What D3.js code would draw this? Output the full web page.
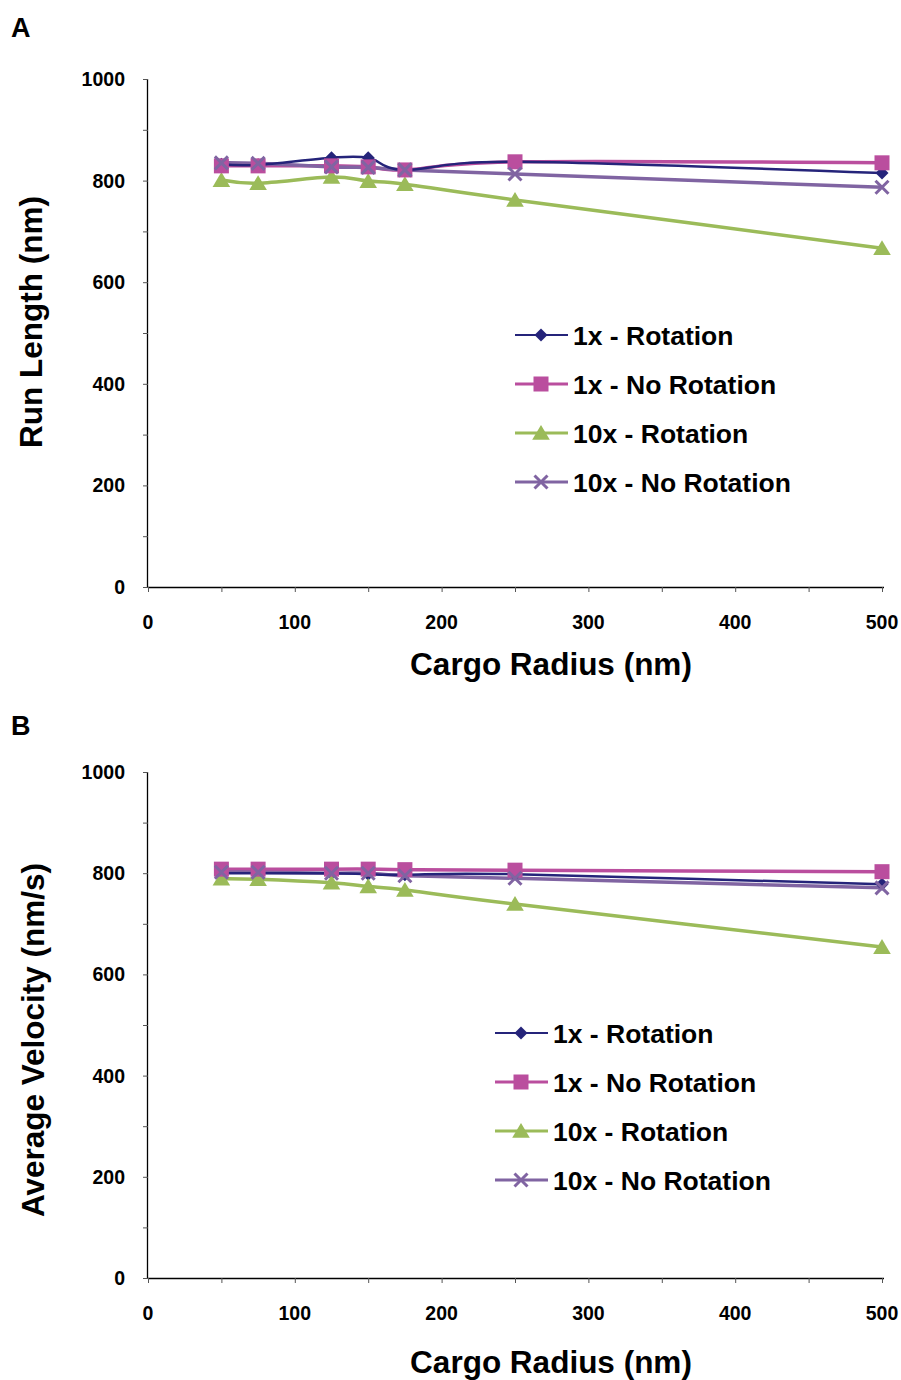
<!DOCTYPE html>
<html>
<head>
<meta charset="utf-8">
<script src="https://cdn.jsdelivr.net/npm/d3@7"></script>
<style>
  body { margin: 0; background: #fff; }
  svg text { font-family: "Liberation Sans", Arial, sans-serif; font-weight: bold; fill: #000; }
</style>
</head>
<body>
<svg id="chart" width="901" height="1380"></svg>
<script>
// cargo radius (nm), shared by both panels
const radius = [50, 75, 125, 150, 175, 250, 500];

const seriesNames = ["1x - Rotation", "1x - No Rotation", "10x - Rotation", "10x - No Rotation"];
const colors = ["#25247A", "#BA4E9E", "#9BBB59", "#8064A2"];
const symbols = ["diamond", "square", "triangle", "cross"];

// panel A: run length (nm)
const runRot1x    = [832, 831, 845, 845, 821, 837, 815];
const runNoRot1x  = [829, 829, 829, 827, 821, 837, 835];
const runRot10x   = [801, 795, 807, 799, 793, 762, 667];
const runNoRot10x = [835, 834, 827, 826, 821, 813, 787];

// panel B: average velocity (nm/s)
const velRot1x    = [800, 800, 800, 798, 797, 798, 778];
const velNoRot1x  = [808, 808, 808, 808, 807, 806, 803];
const velRot10x   = [789, 788, 781, 774, 767, 739, 654];
const velNoRot10x = [802, 802, 800, 800, 795, 790, 771];

const xTicks = [0, 100, 200, 300, 400, 500];
const yTicks = [0, 200, 400, 600, 800, 1000];

const svg = d3.select("#chart");

function marker(g, kind, color, s) {
  if (kind == "diamond") {
    g.append("path").attr("d", `M0,${-s}L${s},0L0,${s}L${-s},0Z`).attr("fill", color);
  } else if (kind == "square") {
    g.append("rect").attr("x", -s).attr("y", -s).attr("width", 2*s).attr("height", 2*s).attr("fill", color);
  } else if (kind == "triangle") {
    g.append("path").attr("d", `M0,${-s}L${s*1.1},${s*0.85}L${-s*1.1},${s*0.85}Z`).attr("fill", color);
  } else {
    g.append("path").attr("d", `M${-s},${-s}L${s},${s}M${s},${-s}L${-s},${s}`)
      .attr("stroke", color).attr("stroke-width", 3).attr("fill", "none");
  }
}

const markerSize = [6.5, 7.5, 8, 6.5];
const lineWidth = [2.5, 3.5, 3.5, 3.5];

function drawPanel(p) {
  const x = d3.scaleLinear().domain([0, 500]).range([148, 882]);
  const y = d3.scaleLinear().domain([0, 1000]).range([p.bottom, p.top]);

  svg.append("text").attr("x", 11).attr("y", p.letterY).attr("font-size", 27).text(p.letter);

  // y axis
  const yAxis = svg.append("g").attr("transform", "translate(148,0)")
    .call(d3.axisLeft(y).tickValues(d3.range(0, 1001, 100)).tickSize(5).tickFormat(""));
  yAxis.select(".domain").attr("stroke", "#000").attr("stroke-width", 1.3).attr("d", `M-0.5,${p.top}V${p.bottom}`);
  yAxis.selectAll(".tick line").attr("stroke", "#555");
  svg.append("g").selectAll("text").data(yTicks).join("text")
    .attr("x", 125).attr("y", d => y(d) + 7).attr("text-anchor", "end")
    .attr("font-size", 19.5).text(d => d);

  // x axis
  const xAxis = svg.append("g").attr("transform", `translate(0,${p.bottom})`)
    .call(d3.axisBottom(x).tickValues(d3.range(0, 501, 50)).tickSize(5).tickFormat(""));
  xAxis.select(".domain").attr("stroke", "#000").attr("stroke-width", 1.3).attr("d", "M148,0.5H884");
  xAxis.selectAll(".tick line").attr("stroke", "#555");
  svg.append("g").selectAll("text").data(xTicks).join("text")
    .attr("x", d => x(d)).attr("y", p.bottom + 42).attr("text-anchor", "middle")
    .attr("font-size", 19.5).text(d => d);

  svg.append("text").attr("x", 551).attr("y", p.xTitleY).attr("text-anchor", "middle")
    .attr("font-size", 31.5).text("Cargo Radius (nm)");
  svg.append("text").attr("transform", `translate(${p.titleX},${p.titleY}) rotate(-90)`)
    .attr("text-anchor", "middle").attr("font-size", 31.5).text(p.yTitle);

  const line = d3.line().x((d, i) => x(radius[i])).y(d => y(d)).curve(d3.curveCatmullRom.alpha(0));

  const order = [1, 3, 2, 0];
  order.forEach(k => {
    svg.append("path").datum(p.series[k]).attr("d", line)
      .attr("fill", "none").attr("stroke", colors[k]).attr("stroke-width", lineWidth[k]);
  });
  [0, 2, 1, 3].forEach(k => {
    p.series[k].forEach((v, i) => {
      const g = svg.append("g").attr("transform", `translate(${x(radius[i])},${y(v)})`);
      marker(g, symbols[k], colors[k], markerSize[k]);
    });
  });

  // legend
  seriesNames.forEach((name, k) => {
    const ly = p.legendY + k * 49;
    svg.append("line").attr("x1", p.legendX).attr("x2", p.legendX + 53)
      .attr("y1", ly).attr("y2", ly).attr("stroke", colors[k]).attr("stroke-width", lineWidth[k] - 0.5);
    const g = svg.append("g").attr("transform", `translate(${p.legendX + 26},${ly})`);
    marker(g, symbols[k], colors[k], markerSize[k]);
    svg.append("text").attr("x", p.legendX + 58).attr("y", ly + 9.5).attr("font-size", 26.5).text(name);
  });
}

drawPanel({
  letter: "A", letterY: 37, top: 79, bottom: 587,
  yTitle: "Run Length (nm)", titleX: 42, titleY: 322, xTitleY: 675,
  series: [runRot1x, runNoRot1x, runRot10x, runNoRot10x],
  legendX: 515, legendY: 335
});
drawPanel({
  letter: "B", letterY: 735, top: 772, bottom: 1278,
  yTitle: "Average Velocity (nm/s)", titleX: 44, titleY: 1040, xTitleY: 1373,
  series: [velRot1x, velNoRot1x, velRot10x, velNoRot10x],
  legendX: 495, legendY: 1033
});
</script>
</body>
</html>
